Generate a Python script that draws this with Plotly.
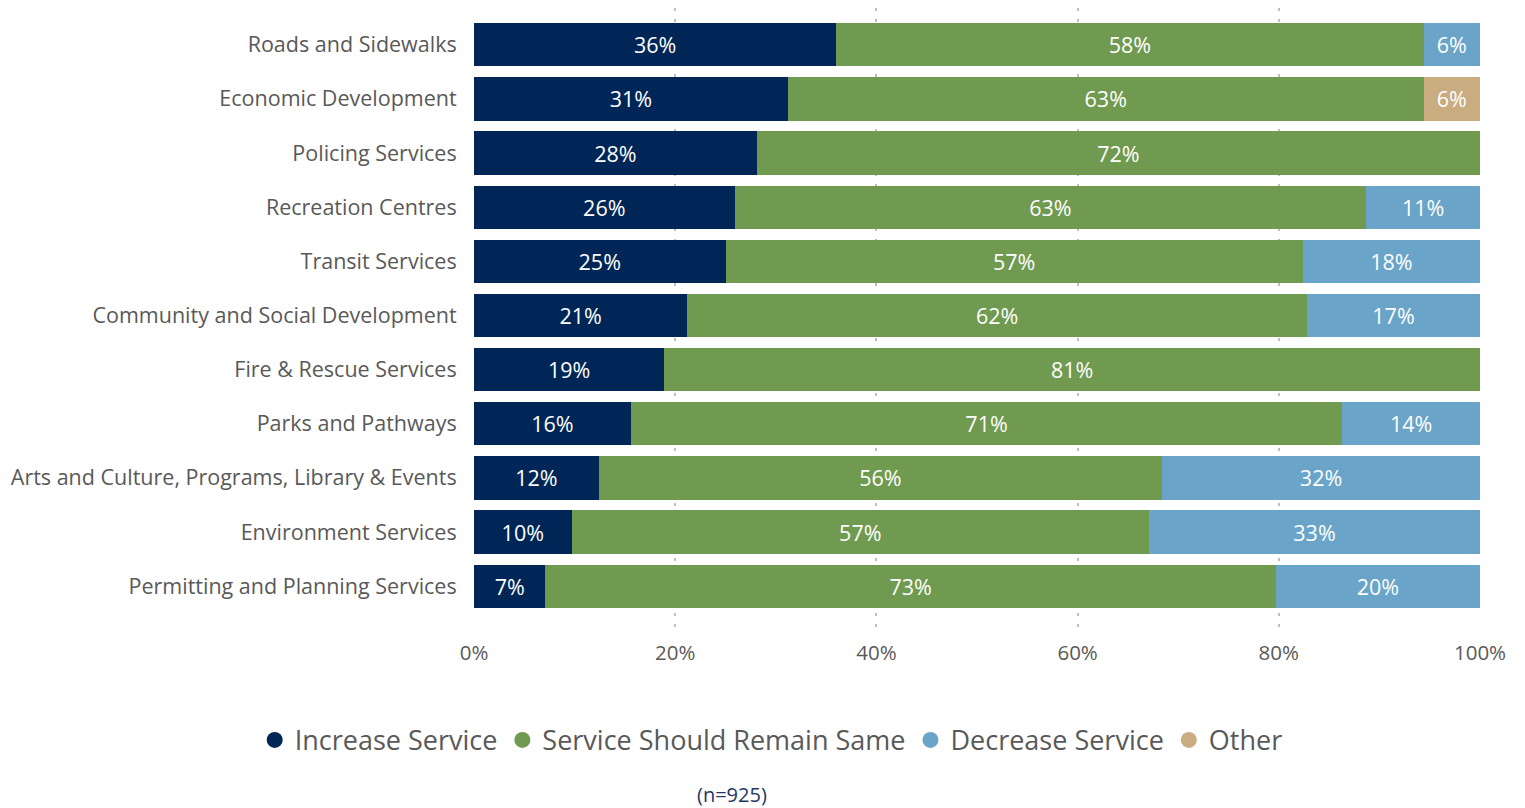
import plotly.graph_objects as go

categories = [
    "Roads and Sidewalks",
    "Economic Development",
    "Policing Services",
    "Recreation Centres",
    "Transit Services",
    "Community and Social Development",
    "Fire & Rescue Services",
    "Parks and Pathways",
    "Arts and Culture, Programs, Library & Events",
    "Environment Services",
    "Permitting and Planning Services",
]
increase = [36.0, 31.2, 28.1, 25.9, 25.0, 21.2, 18.9, 15.6, 12.4, 9.7, 7.1]
same = [58.4, 63.2, 71.9, 62.8, 57.4, 61.6, 81.1, 70.7, 56.0, 57.4, 72.6]
decrease = [5.6, 0, 0, 11.3, 17.6, 17.2, 0, 13.7, 31.6, 32.9, 20.3]
other = [0, 5.6, 0, 0, 0, 0, 0, 0, 0, 0, 0]

series = [
    ("Increase Service", increase, "#002657"),
    ("Service Should Remain Same", same, "#6F9A4F"),
    ("Decrease Service", decrease, "#6AA4C8"),
    ("Other", other, "#C9AC80"),
]

fig = go.Figure()
for name, vals, color in series:
    texts = [f"{v:.0f}%" if v > 0 else "" for v in vals]
    fig.add_trace(go.Bar(
        y=categories, x=vals, orientation="h", name=name,
        marker=dict(color=color, line=dict(width=0)),
        text=texts, textposition="inside", insidetextanchor="middle",
        textfont=dict(color="white", size=21.5, family="Open Sans"),
        showlegend=False, hoverinfo="skip",
    ))
for name, vals, color in series:
    fig.add_trace(go.Scatter(
        x=[None], y=[None], mode="markers", name=name,
        marker=dict(color=color, size=24, symbol="circle"),
    ))

fig.update_layout(
    barmode="stack",
    bargap=0.2,
    width=1517, height=800,
    paper_bgcolor="white", plot_bgcolor="white",
    margin=dict(l=466, r=45, t=0, b=178, autoexpand=False),
    font=dict(family="Open Sans", color="#595959"),
    uniformtext=dict(mode="show", minsize=10),
    xaxis=dict(
        range=[0, 100], tickvals=[0, 20, 40, 60, 80, 100],
        ticktext=["0%", "20%", "40%", "60%", "80%", "100%"],
        showgrid=True, gridcolor="#BFBFBF", griddash="3px,8px", gridwidth=1.5,
        zeroline=False, showline=False,
        tickfont=dict(size=20.5, color="#595959"),
        ticks="outside", ticklen=4, tickcolor="rgba(0,0,0,0)",
    ),
    yaxis=dict(
        categoryorder="array", categoryarray=categories[::-1],
        range=[-0.81, 10.68],
        showgrid=False, zeroline=False, showline=False,
        tickfont=dict(size=21.5, color="#595959"),
        ticks="outside", ticklen=12, tickcolor="rgba(0,0,0,0)",
    ),
    legend=dict(
        orientation="h", x=-0.218, xanchor="left",
        y=-0.138, yanchor="top",
        font=dict(size=27, color="#595959"),
        itemwidth=30, tracegroupgap=0, traceorder="normal",
    ),
    annotations=[dict(
        text="(n=925)", x=(724 - 466) / (1517 - 466 - 45), xref="paper",
        xanchor="center", y=-0.265, yref="paper", yanchor="middle",
        showarrow=False, font=dict(size=20, color="#1F3864"),
    )],
)

fig.write_html("out.html")
